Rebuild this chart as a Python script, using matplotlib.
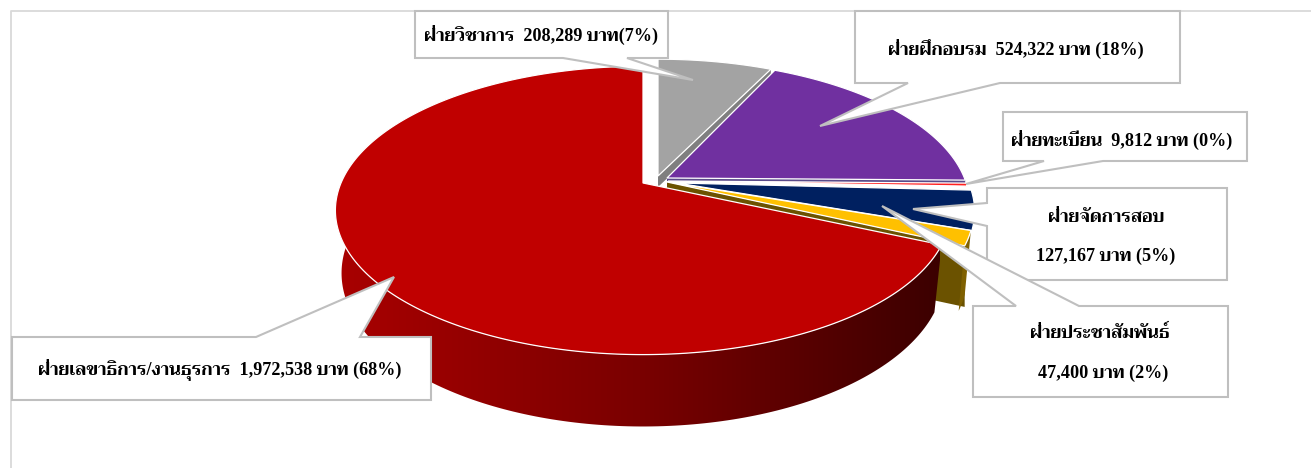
import numpy as np
import matplotlib
matplotlib.use('Agg')
import matplotlib.pyplot as plt
from matplotlib.colors import LinearSegmentedColormap
from matplotlib.patches import PathPatch, Polygon
from matplotlib.path import Path

# departments, clockwise from 12 o'clock
departments = ['ฝ่ายวิชาการ', 'ฝ่ายฝึกอบรม', 'ฝ่ายทะเบียน', 'ฝ่ายจัดการสอบ', 'ฝ่ายประชาสัมพันธ์', 'ฝ่ายเลขาธิการ/งานธุรการ']
budget = [208289, 524322, 9812, 127167, 47400, 1972538]
percent = [7, 18, 0, 5, 2, 68]
colors = ['#A3A3A3', '#7030A0', '#FF2020', '#002060', '#FFC000', '#C00000']

font_list = ['Liberation Serif', 'Trirong', 'Noto Serif Thai', 'DejaVu Serif']

W, H = 1311, 468
fig = plt.figure(figsize=(W / 100, H / 100), dpi=100)
ax = fig.add_axes([0, 0, 1, 1])
ax.set_xlim(0, W)
ax.set_ylim(H, 0)
ax.axis('off')

# perspective disk
A, B, K = 302, 139, 0.19
DEPTH = 61
SHRINK = 0.98
# centre each slice is measured from, and where its point is actually drawn
apex = [(658, 176), (662, 177), (663, 180), (667, 184), (666, 184), (643, 183)]
tips = [(658, 176), (667, 178), (668, 181), (677, 183), (667, 182), (643, 183)]


def rim(theta, vertex, drop=0.0, scale=1.0):
    # theta in degrees, clockwise from 12 o'clock
    t = np.radians(theta)
    u, v = np.sin(t), -np.cos(t)
    w = 1 - K * v
    return vertex[0] + scale * A * u / w, vertex[1] + scale * B * v / w + drop / w


def cut_face(i, theta, depth, color, z):
    # flat side of a slice, visible in the gap to its neighbour
    xe, ye = rim(theta, apex[i])
    tx, ty = tips[i]
    ax.add_patch(Polygon([(tx, ty), (xe, ye), (xe, ye + depth), (tx, ty + depth)],
                         closed=True, fc=color, ec='none', zorder=z))


edges = np.cumsum([0] + budget) / sum(budget) * 360

# frame
ax.plot([11, 11, W], [H, 11, 11], color='#D9D9D9', lw=1.3, zorder=1)

# side walls of the yellow slice
cut_face(4, edges[5], DEPTH, '#6B5200', 2)
th = np.linspace(edges[4], edges[5], 20)
xo, yo = rim(th, apex[4])
xb, yb = rim(th, apex[4], DEPTH, SHRINK)
ax.add_patch(Polygon(np.r_[np.c_[xo, yo], np.c_[xb, yb][::-1]], closed=True,
                     fc='#7F6000', ec='none', zorder=2.1))

# wall of the big slice, shaded left to right
th = np.linspace(edges[5], 300, 200)
xo, yo = rim(th, apex[5])
xb, yb = rim(th, apex[5], DEPTH, SHRINK)
wall = np.r_[np.c_[xo, yo], np.c_[xb, yb][::-1]]
shade = np.linspace(0, 1, 256).reshape(1, -1)
cmap = LinearSegmentedColormap.from_list('wall', ['#A80000', '#7A0000', '#3C0000'])
img = ax.imshow(shade, cmap=cmap, extent=[340, 940, 440, 200], aspect='auto', zorder=3)
img.set_clip_path(PathPatch(Path(wall, closed=True), transform=ax.transData))
ax.set_xlim(0, W)
ax.set_ylim(H, 0)

cut_face(0, edges[1], 11, '#7F7F7F', 3.5)
cut_face(1, edges[2], 3, '#5A4A8A', 3.5)

# top faces
for i in range(len(budget)):
    th = np.linspace(edges[i], edges[i + 1], max(int(edges[i + 1] - edges[i]) * 2, 8))
    xo, yo = rim(th, apex[i])
    ax.add_patch(Polygon(np.r_[[tips[i]], np.c_[xo, yo]], closed=True, fc=colors[i], ec='white',
                         lw=0.9, joinstyle='miter', zorder=4))

# callouts: outline points and text lines
callouts = [
    ([(415, 11), (668, 11), (668, 58), (627, 58), (693, 80), (563, 58), (415, 58)],
     [(541, 35, f'{departments[0]}  {budget[0]:,} บาท({percent[0]}%)')]),
    ([(855, 11), (1180, 11), (1180, 83), (1000, 83), (820, 126), (908, 83), (855, 83)],
     [(1016, 49, f'{departments[1]}  {budget[1]:,} บาท ({percent[1]}%)')]),
    ([(1003, 112), (1247, 112), (1247, 161), (1103, 161), (966, 184), (1044, 161), (1003, 161)],
     [(1122, 140, f'{departments[2]}  {budget[2]:,} บาท ({percent[2]}%)')]),
    ([(987, 188), (1227, 188), (1227, 280), (987, 280), (987, 226), (913, 209), (987, 203)],
     [(1106, 217, departments[3]), (1106, 256, f'{budget[3]:,} บาท ({percent[3]}%)')]),
    ([(973, 306), (1016, 306), (882, 206), (1079, 306), (1228, 306), (1228, 397), (973, 397)],
     [(1100, 333, departments[4]), (1103, 373, f'{budget[4]:,} บาท ({percent[4]}%)')]),
    ([(12, 337), (256, 337), (394, 277), (360, 337), (431, 337), (431, 400), (12, 400)],
     [(220, 369, f'{departments[5]}  {budget[5]:,} บาท ({percent[5]}%)')]),
]
for n, (outline, lines) in enumerate(callouts):
    ax.add_patch(Polygon(outline, closed=True, fc='white', ec='#BFBFBF', lw=1.5,
                         joinstyle='miter', zorder=5 + n * 0.1))
    for x, y, s in lines:
        ax.text(x, y, s, ha='center', va='center', fontsize=13.1, fontweight='bold',
                family=font_list, color='black', zorder=6)

fig.savefig('out.png', dpi=100)
